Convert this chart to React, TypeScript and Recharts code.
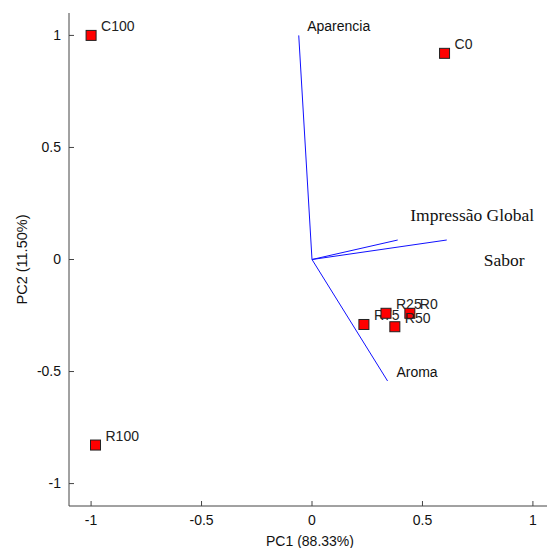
import { ScatterChart, Scatter, XAxis, YAxis, ReferenceLine, Label } from 'recharts';

// sample scores
const sampleNames = ['C100', 'C0', 'R100', 'R75', 'R25', 'R0', 'R50'];
const samplePC1 = [-1.0, 0.6, -0.98, 0.235, 0.335, 0.443, 0.375];
const samplePC2 = [1.0, 0.92, -0.828, -0.29, -0.24, -0.24, -0.3];

// attribute loadings (vector tips)
const attributes = ['Aparencia', 'Impressão Global', 'Sabor', 'Aroma'];
const loadPC1 = [-0.06, 0.388, 0.61, 0.342];
const loadPC2 = [1.0, 0.087, 0.087, -0.542];

// where the attribute names sit
const labelPC1 = [-0.022, 0.445, 0.778, 0.382];
const labelPC2 = [1.04, 0.199, 0.0, -0.504];

const axisTicks = [-1, -0.5, 0, 0.5, 1];

const samples = sampleNames.map((name, i) => ({ name, x: samplePC1[i], y: samplePC2[i] }));
const loadings = attributes.map((name, i) => ({ name, x: loadPC1[i], y: loadPC2[i] }));
const attrLabels = attributes.map((name, i) => ({ name, x: labelPC1[i], y: labelPC2[i] }));

const AXIS = '#444';
const SANS = '"Liberation Sans", Arial, sans-serif';
const SERIF = '"Liberation Serif", "Times New Roman", serif';
const serifLabels = ['Impressão Global', 'Sabor'];

function BottomTick({ x, y, payload }: any) {
  return (
    <g>
      <line x1={x} y1={y} x2={x} y2={y - 5} stroke={AXIS} />
      <text x={x} y={y + 14} dy="0.35em" textAnchor="middle" fontSize={14} fontFamily={SANS} fill="#111">
        {payload.value}
      </text>
    </g>
  );
}

function TopTick({ x, y }: any) {
  return <line x1={x} y1={y} x2={x} y2={y + 5} stroke={AXIS} />;
}

function LeftTick({ x, y, payload }: any) {
  return (
    <g>
      <line x1={x} y1={y} x2={x + 5} y2={y} stroke={AXIS} />
      <text x={x - 8} y={y} dy="0.35em" textAnchor="end" fontSize={14} fontFamily={SANS} fill="#111">
        {payload.value}
      </text>
    </g>
  );
}

function SampleMark({ cx, cy, payload }: any) {
  return (
    <g>
      <text x={cx + 10} y={cy - 9} dy="0.35em" fontSize={14} fontFamily={SANS} fill="#222">
        {payload.name}
      </text>
      <rect x={cx - 5} y={cy - 5} width={10} height={10} fill="#ff0000" stroke="#222" strokeWidth={1} />
    </g>
  );
}

function AttrText({ cx, cy, payload }: any) {
  const serif = serifLabels.includes(payload.name);
  return (
    <text
      x={cx}
      y={cy}
      dy="0.35em"
      fontSize={serif ? 17.5 : 14}
      fontFamily={serif ? SERIF : SANS}
      fill="#111"
    >
      {payload.name}
    </text>
  );
}

export default function App() {
  return (
    <div
      style={{
        position: 'absolute',
        left: 0,
        top: 0,
        width: 547,
        height: 548,
        overflow: 'hidden',
        background: '#fff',
      }}
    >
      <ScatterChart width={560} height={548} margin={{ top: 13, right: 5, bottom: 12, left: 29 }}>
        <XAxis
          type="number"
          dataKey="x"
          domain={[-1.1, 1.1]}
          ticks={axisTicks}
          height={30}
          tickSize={0}
          tickMargin={0}
          tickLine={false}
          stroke={AXIS}
          tick={<BottomTick />}
          allowDataOverflow
        >
          <Label
            content={({ viewBox }: any) => (
              <text
                x={viewBox.x + viewBox.width / 2 - 2}
                y={viewBox.y + 35}
                dy="0.35em"
                textAnchor="middle"
                fontSize={14}
                fontFamily={SANS}
                fill="#111"
              >
                PC1 (88.33%)
              </text>
            )}
          />
        </XAxis>
        <XAxis
          xAxisId="top"
          orientation="top"
          type="number"
          dataKey="x"
          domain={[-1.1, 1.1]}
          ticks={axisTicks}
          height={0}
          tickSize={0}
          tickMargin={0}
          tickLine={false}
          stroke={AXIS}
          tick={<TopTick />}
          allowDataOverflow
        />
        <YAxis
          type="number"
          dataKey="y"
          domain={[-1.1, 1.1]}
          ticks={axisTicks}
          width={40}
          tickSize={0}
          tickMargin={0}
          tickLine={false}
          stroke={AXIS}
          tick={<LeftTick />}
          allowDataOverflow
        >
          <Label
            content={({ viewBox }: any) => {
              const cx = viewBox.x - 7;
              const cy = viewBox.y + viewBox.height / 2;
              return (
                <text
                  x={cx}
                  y={cy}
                  dy="0.35em"
                  textAnchor="middle"
                  transform={`rotate(-90, ${cx}, ${cy})`}
                  fontSize={14.5}
                  fontFamily={SANS}
                  fill="#111"
                >
                  PC2 (11.50%)
                </text>
              );
            }}
          />
        </YAxis>
        {loadings.map((l) => (
          <ReferenceLine
            key={l.name}
            segment={[{ x: 0, y: 0 }, { x: l.x, y: l.y }]}
            stroke="#1010ff"
            strokeWidth={1}
            ifOverflow="visible"
          />
        ))}
        <Scatter data={attrLabels} shape={<AttrText />} isAnimationActive={false} />
        <Scatter data={samples} shape={<SampleMark />} isAnimationActive={false} />
      </ScatterChart>
    </div>
  );
}
